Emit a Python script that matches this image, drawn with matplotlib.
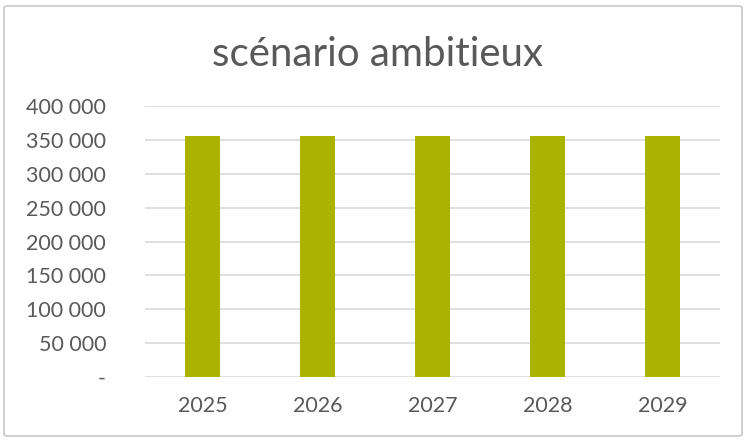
import matplotlib
matplotlib.use("Agg")
import matplotlib.pyplot as plt
from matplotlib.patches import FancyBboxPatch
from matplotlib.ticker import FuncFormatter

years = ["2025", "2026", "2027", "2028", "2029"]
values = [355000, 355000, 355000, 355000, 355000]
title = "scénario ambitieux"

BAR = "#aab400"
TXT = "#595959"
GRID = "#d9d9d9"

plt.rcParams["font.family"] = ["Lato", "DejaVu Sans"]

fig = plt.figure(figsize=(7.49, 4.41), dpi=100)
fig.patches.append(FancyBboxPatch((4 / 749, 5 / 441), 738 / 749, 430 / 441,
                                  boxstyle="round,pad=0,rounding_size=0.005",
                                  transform=fig.transFigure, fill=False,
                                  ec="#c8c8c8", lw=1.2))

ax = fig.add_axes([145 / 749, 64 / 441, 575 / 749, 271 / 441])
x = range(len(years))
ax.bar(x, values, width=0.31, color=BAR, zorder=3)

ax.set_ylim(0, 400000)
ax.set_xlim(-0.5, len(years) - 0.5)
ax.set_yticks(range(0, 400001, 50000))
ax.yaxis.set_major_formatter(FuncFormatter(
    lambda v, p: "-" if v == 0 else f"{int(v):,}".replace(",", " ")))
ax.set_xticks(list(x))
ax.set_xticklabels(years)

ax.grid(axis="y", color=GRID, lw=1.2, zorder=0)
for s in ax.spines.values():
    s.set_visible(False)
ax.tick_params(length=0, labelsize=15.5, labelcolor=TXT)
ax.tick_params(axis="y", pad=28)
ax.tick_params(axis="x", pad=14)
for lab in ax.get_yticklabels():
    lab.set_horizontalalignment("right")

fig.text(377 / 749, 1 - 55 / 441, title, ha="center", va="center",
         fontsize=29, color=TXT)

fig.savefig("out.png", dpi=100)
